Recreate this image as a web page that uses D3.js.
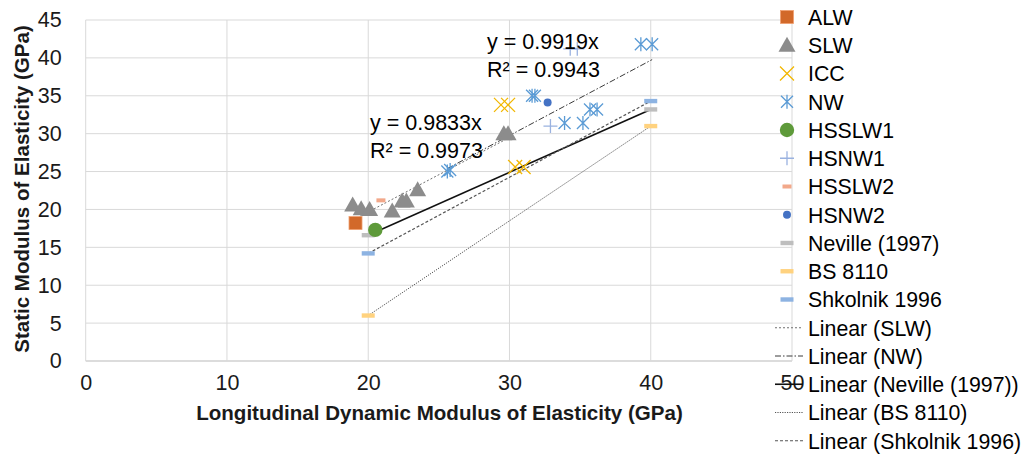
<!DOCTYPE html>
<html><head><meta charset="utf-8">
<script src="https://cdn.jsdelivr.net/npm/d3@7/dist/d3.min.js"></script>
<style>body{margin:0;background:#fff}svg{display:block}text{font-family:"Liberation Sans",Arial,sans-serif}</style>
</head><body><svg id="c" width="1026" height="455"></svg>
<script>
// ---- data ----
const xTicks = [0,10,20,30,40,50];
const yTicks = [0,5,10,15,20,25,30,35,40,45];
const ALW = [[19.1,18.2]];
const SLW = [[18.9,20.6],[19.5,20.1],[20.1,20.0],[21.7,19.8],[22.4,21.1],[22.7,21.1],[23.5,22.6],[29.6,30.0],[29.9,30.0]];
const ICC = [[29.4,33.8],[29.9,33.8],[30.4,25.6],[31.0,25.6]];
const NW = [[25.6,25.0],[25.8,25.2],[31.6,35.0],[31.8,35.0],[33.9,31.4],[35.2,31.4],[35.7,33.2],[36.2,33.2],[39.3,41.8],[40.1,41.8]];
const HSSLW1 = [[20.5,17.3]];
const HSNW1 = [[32.9,31.0],[34.3,41.2],[34.8,41.2]];
const HSSLW2 = [[20.9,21.2]];
const HSNW2 = [[32.7,34.1]];
const Neville = [[20,16.6],[40,33.2]];
const BS8110 = [[20,6.0],[40,31.0]];
const Shkolnik = [[20,14.2],[40,34.3]];
const slopeSLW = 0.9833, r2SLW = 0.9973;
const slopeNW = 0.9919, r2NW = 0.9943;
const legendNames = ["ALW","SLW","ICC","NW","HSSLW1","HSNW1","HSSLW2","HSNW2","Neville (1997)","BS 8110","Shkolnik 1996","Linear (SLW)","Linear (NW)","Linear (Neville (1997))","Linear (BS 8110)","Linear (Shkolnik 1996)"];

const svg = d3.select("#c");
const x = d3.scaleLinear().domain([0,50]).range([85.7,792]);
const y = d3.scaleLinear().domain([0,45]).range([361,20]);

// gridlines
const g = svg.append("g");
g.selectAll(".hg").data(yTicks).join("line")
  .attr("x1",x(0)).attr("x2",x(50)).attr("y1",d=>y(d)).attr("y2",d=>y(d))
  .attr("stroke",d=>d===0?"#d0d0d0":"#d9d9d9").attr("stroke-width",d=>d===0?1.5:1);
g.selectAll(".vg").data(xTicks).join("line")
  .attr("y1",y(0)).attr("y2",y(45)).attr("x1",d=>x(d)).attr("x2",d=>x(d))
  .attr("stroke","#d9d9d9").attr("stroke-width",1);

// axes labels
const yAxis = d3.axisLeft(y).tickValues(yTicks).tickSize(0).tickPadding(24);
const ya = svg.append("g").attr("transform",`translate(${x(0)},0)`).call(yAxis);
ya.select(".domain").remove();
ya.selectAll("text").attr("font-size",21.5).attr("fill","#1a1a1a").attr("font-family","Liberation Sans, Arial, sans-serif");
const xAxis = d3.axisBottom(x).tickValues(xTicks).tickSize(0).tickPadding(14);
const xa = svg.append("g").attr("transform",`translate(0,${y(0)})`).call(xAxis);
xa.select(".domain").remove();
xa.selectAll("text").attr("font-size",21.5).attr("fill","#1a1a1a").attr("font-family","Liberation Sans, Arial, sans-serif");

function fit(sel, w){ const n = sel.node().getComputedTextLength(); const fs = +sel.attr("font-size"); sel.attr("font-size", fs*w/n); }
const xt = svg.append("text").attr("x",439.5).attr("y",420).attr("text-anchor","middle")
  .attr("font-weight","bold").attr("font-size",18).attr("fill","#1a1a1a")
  .text("Longitudinal Dynamic Modulus of Elasticity (GPa)");
fit(xt,487);
const ytl = svg.append("text").attr("transform","translate(29,189) rotate(-90)").attr("text-anchor","middle")
  .attr("font-weight","bold").attr("font-size",18).attr("fill","#1a1a1a")
  .text("Static Modulus of Elasticity (GPa)");
fit(ytl,328);

// trendlines
const line = d3.line().x(d=>x(d[0])).y(d=>y(d[1]));
const ext = a => d3.extent(a,d=>d[0]);
const styles = {
  SLW:{stroke:"#6f6f6f",dash:"2,2",w:1},
  NW:{stroke:"#3a3a3a",dash:"6,2,1.5,2",w:1},
  Nev:{stroke:"#111",dash:null,w:1.6},
  BS:{stroke:"#555",dash:"1.2,1.2",w:1},
  Shk:{stroke:"#555",dash:"3,2",w:1.2}
};
function fitLine(pts){ const [a,b]=pts; const m=(b[1]-a[1])/(b[0]-a[0]); const c=a[1]-m*a[0]; return ext(pts).map(v=>[v,m*v+c]); }
const trends = [
  [ext(SLW).map(v=>[v,slopeSLW*v]), styles.SLW],
  [ext(NW).map(v=>[v,slopeNW*v]), styles.NW],
  [fitLine(Neville), styles.Nev],
  [fitLine(BS8110), styles.BS],
  [fitLine(Shkolnik), styles.Shk]
];
trends.forEach(([d,s])=>svg.append("path").attr("d",line(d)).attr("fill","none")
  .attr("stroke",s.stroke).attr("stroke-width",s.w).attr("stroke-dasharray",s.dash));

// marker drawers
const M = {
  ALW:(s,cx,cy)=>s.append("rect").attr("x",cx-6.5).attr("y",cy-6.5).attr("width",13).attr("height",13).attr("fill","#D2692A").attr("stroke","#F0A070").attr("stroke-width",0.8),
  SLW:(s,cx,cy)=>s.append("path").attr("d",`M${cx},${cy-8.5}L${cx+8.5},${cy+6.5}L${cx-8.5},${cy+6.5}Z`).attr("fill","#8C8C8C"),
  ICC:(s,cx,cy)=>s.append("path").attr("d",`M${cx-7},${cy-7}L${cx+7},${cy+7}M${cx+7},${cy-7}L${cx-7},${cy+7}`).attr("stroke","#F2B700").attr("stroke-width",1.3).attr("fill","none"),
  NW:(s,cx,cy)=>s.append("path").attr("d",`M${cx-6},${cy-6}L${cx+6},${cy+6}M${cx+6},${cy-6}L${cx-6},${cy+6}M${cx},${cy-7}L${cx},${cy+7}`).attr("stroke","#5B9BD5").attr("stroke-width",1.3).attr("fill","none"),
  HSSLW1:(s,cx,cy)=>s.append("circle").attr("cx",cx).attr("cy",cy).attr("r",7.2).attr("fill","#5E9A3A"),
  HSNW1:(s,cx,cy)=>s.append("path").attr("d",`M${cx-7},${cy}L${cx+7},${cy}M${cx},${cy-7}L${cx},${cy+7}`).attr("stroke","#9AB2E0").attr("stroke-width",1.3).attr("fill","none"),
  HSSLW2:(s,cx,cy)=>s.append("rect").attr("x",cx-4.5).attr("y",cy-2).attr("width",9).attr("height",4).attr("fill","#F2A88A"),
  HSNW2:(s,cx,cy)=>s.append("circle").attr("cx",cx).attr("cy",cy).attr("r",4).attr("fill","#4472C4"),
  Neville:(s,cx,cy)=>s.append("rect").attr("x",cx-6.5).attr("y",cy-2.2).attr("width",13).attr("height",4.4).attr("fill","#BEBEBE"),
  BS:(s,cx,cy)=>s.append("rect").attr("x",cx-6.5).attr("y",cy-2.2).attr("width",13).attr("height",4.4).attr("fill","#FFD27F"),
  Shk:(s,cx,cy)=>s.append("rect").attr("x",cx-6.5).attr("y",cy-2.2).attr("width",13).attr("height",4.4).attr("fill","#8DB3E2")
};
const series = [["Neville",Neville],["BS",BS8110],["Shk",Shkolnik],["ALW",ALW],["HSSLW2",HSSLW2],["SLW",SLW],["HSSLW1",HSSLW1],["ICC",ICC],["NW",NW],["HSNW1",HSNW1],["HSNW2",HSNW2]];
const mg = svg.append("g");
series.forEach(([k,arr])=>arr.forEach(d=>M[k](mg,x(d[0]),y(d[1]))));

// equations
const eq = svg.append("g").attr("font-size",21.5).attr("fill","#000");
eq.append("text").attr("x",487).attr("y",49).text(`y = ${slopeNW}x`);
eq.append("text").attr("x",487).attr("y",77).text(`R² = ${r2NW}`);
eq.append("text").attr("x",370).attr("y",130).text(`y = ${slopeSLW}x`);
eq.append("text").attr("x",370).attr("y",158).text(`R² = ${r2SLW}`);

// legend
const lg = svg.append("g");
const legKeys = ["ALW","SLW","ICC","NW","HSSLW1","HSNW1","HSSLW2","HSNW2","Neville","BS","Shk","SLW_t","NW_t","Nev_t","BS_t","Shk_t"];
const ly = i => 17 + i*28.25;
legKeys.forEach((k,i)=>{
  const cy = ly(i);
  if(k.endsWith("_t")){
    const s = styles[k.slice(0,-2)];
    lg.append("line").attr("x1",775).attr("x2",803).attr("y1",cy).attr("y2",cy)
      .attr("stroke",s.stroke).attr("stroke-width",s.w).attr("stroke-dasharray",s.dash);
  } else {
    M[k](lg,787,cy);
  }
  lg.append("text").attr("x",808).attr("y",cy+7.8).attr("font-size",21.3).attr("fill","#000").text(legendNames[i]);
});
</script></body></html>
